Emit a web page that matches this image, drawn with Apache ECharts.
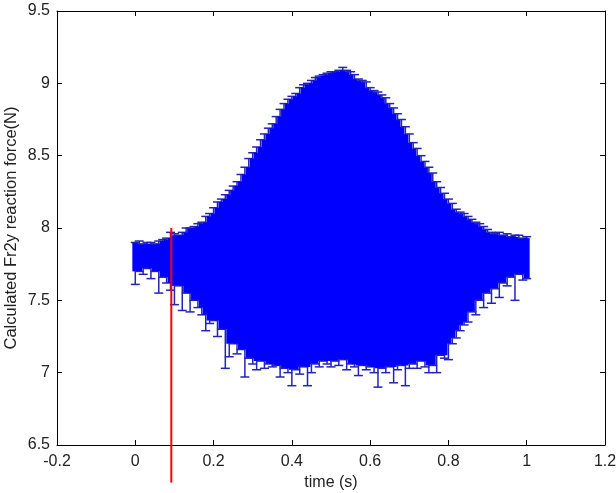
<!DOCTYPE html>
<html>
<head>
<meta charset="utf-8">
<script src="https://cdn.jsdelivr.net/npm/echarts@6/dist/echarts.min.js"></script>
<style>
  html, body { margin: 0; padding: 0; background: #fff; }
  #main { width: 616px; height: 493px; }
</style>
</head>
<body>
<div id="main"></div>
<script>
// time samples (s), step 0.01
var times = [];
for (var i = 0; i <= 100; i++) times.push(+(i * 0.01).toFixed(2));

// top of each error bar (N)
var upper = [
  7.90, 7.91, 7.89, 7.90, 7.90, 7.89, 7.91, 7.92, 7.93, 7.97,
  7.96, 7.95, 7.97, 8.00, 8.00, 8.01, 8.03, 8.04, 8.08, 8.10,
  8.14, 8.18, 8.20, 8.23, 8.26, 8.29, 8.32, 8.37, 8.42, 8.48,
  8.52, 8.56, 8.61, 8.65, 8.69, 8.72, 8.77, 8.82, 8.86, 8.89,
  8.91, 8.93, 8.97, 8.99, 9.00, 9.02, 9.04, 9.05, 9.06, 9.07,
  9.08, 9.08, 9.09, 9.11, 9.09, 9.08, 9.06, 9.03, 9.02, 9.01,
  8.97, 8.95, 8.94, 8.92, 8.90, 8.86, 8.83, 8.79, 8.75, 8.70,
  8.65, 8.59, 8.55, 8.50, 8.46, 8.42, 8.38, 8.32, 8.28, 8.24,
  8.20, 8.17, 8.13, 8.11, 8.10, 8.08, 8.06, 8.04, 8.03, 8.01,
  7.99, 7.97, 7.96, 7.97, 7.95, 7.96, 7.94, 7.95, 7.95, 7.93,
  7.94
];

// bottom of each error bar (N)
var lower = [
  7.61, 7.70, 7.68, 7.72, 7.65, 7.70, 7.55, 7.66, 7.62, 7.57,
  7.47, 7.60, 7.43, 7.55, 7.42, 7.50, 7.45, 7.40, 7.29, 7.34,
  7.36, 7.25, 7.30, 7.03, 7.11, 7.20, 7.13, 7.16, 6.97, 7.10,
  7.06, 7.02, 7.08, 7.03, 7.06, 7.04, 7.05, 6.97, 7.03, 7.00,
  6.91, 7.02, 6.99, 7.04, 6.91, 7.00, 7.06, 7.04, 7.08, 7.06,
  7.04, 7.08, 7.05, 7.09, 7.02, 7.06, 7.04, 6.98, 7.05, 7.02,
  7.04, 7.00, 6.90, 7.03, 7.00, 7.04, 6.93, 7.02, 7.05, 6.91,
  7.03, 7.06, 7.03, 7.08, 7.04, 7.00, 7.05, 7.00, 7.12, 7.10,
  7.09, 7.20, 7.24, 7.29, 7.33, 7.35, 7.42, 7.40, 7.50, 7.45,
  7.55, 7.48, 7.58, 7.52, 7.62, 7.60, 7.66, 7.50, 7.68, 7.64,
  7.65
];

// red marker line
var markerTime = 0.092;
var markerRange = [6.24, 8.0];

var xTicks = ['-0.2', '0', '0.2', '0.4', '0.6', '0.8', '1', '1.2'];
var yTicks = ['6.5', '7', '7.5', '8', '8.5', '9', '9.5'];

var font = '"Liberation Sans", Arial, sans-serif';
var barData = times.map(function (t, i) { return [t, upper[i], lower[i]]; });

function renderBar(params, api) {
  var i = params.dataIndex;
  var n = upper.length;
  var t = api.value(0);
  var hi = api.value(1);
  var lo = api.value(2);
  var hiBody = Math.min(upper[Math.max(i - 1, 0)], hi, upper[Math.min(i + 1, n - 1)]);
  var loBody = Math.max(lower[Math.max(i - 1, 0)], lo, lower[Math.min(i + 1, n - 1)]);
  var pHi = api.coord([t, hi]);
  var pLo = api.coord([t, lo]);
  var pBodyTop = api.coord([t, hiBody]);
  var pBodyBot = api.coord([t, loBody]);
  var w = api.size([0.01, 0])[0];
  var cap = 4.5;
  var thin = '#2424b4';
  return {
    type: 'group',
    children: [
      {
        type: 'rect',
        shape: { x: pBodyTop[0] - w / 2 - 1, y: pBodyTop[1], width: w + 2, height: pBodyBot[1] - pBodyTop[1] },
        style: { fill: '#0000ff' }
      },
      {
        type: 'line',
        shape: { x1: pHi[0], y1: pHi[1], x2: pHi[0], y2: pBodyTop[1] },
        style: { stroke: thin, lineWidth: 1.5 }
      },
      {
        type: 'line',
        shape: { x1: pLo[0], y1: pBodyBot[1], x2: pLo[0], y2: pLo[1] },
        style: { stroke: thin, lineWidth: 1.5 }
      },
      {
        type: 'line',
        shape: { x1: pHi[0] - cap, y1: pHi[1], x2: pHi[0] + cap, y2: pHi[1] },
        style: { stroke: thin, lineWidth: 1.5 }
      },
      {
        type: 'line',
        shape: { x1: pLo[0] - cap, y1: pLo[1], x2: pLo[0] + cap, y2: pLo[1] },
        style: { stroke: thin, lineWidth: 1.5 }
      }
    ]
  };
}

var chart = echarts.init(document.getElementById('main'), null, { renderer: 'canvas' });

var axisCommon = {
  axisLine: { show: true, onZero: false, lineStyle: { color: '#000', width: 1 } },
  axisTick: { show: true, inside: true, length: 5, lineStyle: { color: '#000' } },
  splitLine: { show: false }
};

var option = {
  backgroundColor: '#fff',
  animation: false,
  grid: { left: 57, right: 11, top: 11, bottom: 48, containLabel: false, outerBoundsMode: 'none' },
  xAxis: [
    Object.assign({
      type: 'value', min: -0.2, max: 1.2, interval: 0.2, position: 'bottom',
      name: 'time (s)', nameLocation: 'middle', nameGap: 30, nameMoveOverlap: false,
      nameTextStyle: { color: '#222', fontSize: 16, fontFamily: font },
      axisLabel: {
        color: '#222', fontSize: 16, fontFamily: font, margin: 9,
        formatter: function (v) { return xTicks[Math.round((v + 0.2) / 0.2)]; }
      }
    }, axisCommon),
    Object.assign({
      type: 'value', min: -0.2, max: 1.2, interval: 0.2, position: 'top',
      axisLabel: { show: false }
    }, axisCommon)
  ],
  yAxis: [
    Object.assign({
      type: 'value', min: 6.5, max: 9.5, interval: 0.5, position: 'left',
      name: 'Calculated Fr2y reaction force(N)', nameLocation: 'middle', nameGap: 37, nameMoveOverlap: false,
      nameTextStyle: { color: '#222', fontSize: 16.5, fontFamily: font },
      axisLabel: {
        color: '#222', fontSize: 16, fontFamily: font, margin: 7,
        formatter: function (v) { return yTicks[Math.round((v - 6.5) / 0.5)]; }
      }
    }, axisCommon),
    Object.assign({
      type: 'value', min: 6.5, max: 9.5, interval: 0.5, position: 'right',
      axisLabel: { show: false }
    }, axisCommon)
  ],
  series: [
    {
      type: 'custom',
      xAxisIndex: 0,
      yAxisIndex: 0,
      renderItem: renderBar,
      encode: { x: 0, y: [1, 2] },
      data: barData,
      z: 2
    },
    {
      type: 'line',
      xAxisIndex: 0,
      yAxisIndex: 0,
      clip: false,
      symbol: 'none',
      silent: true,
      lineStyle: { color: '#ff0000', width: 2 },
      data: [[markerTime, markerRange[0]], [markerTime, markerRange[1]]],
      z: 5
    }
  ]
};

chart.setOption(option);
</script>
</body>
</html>
